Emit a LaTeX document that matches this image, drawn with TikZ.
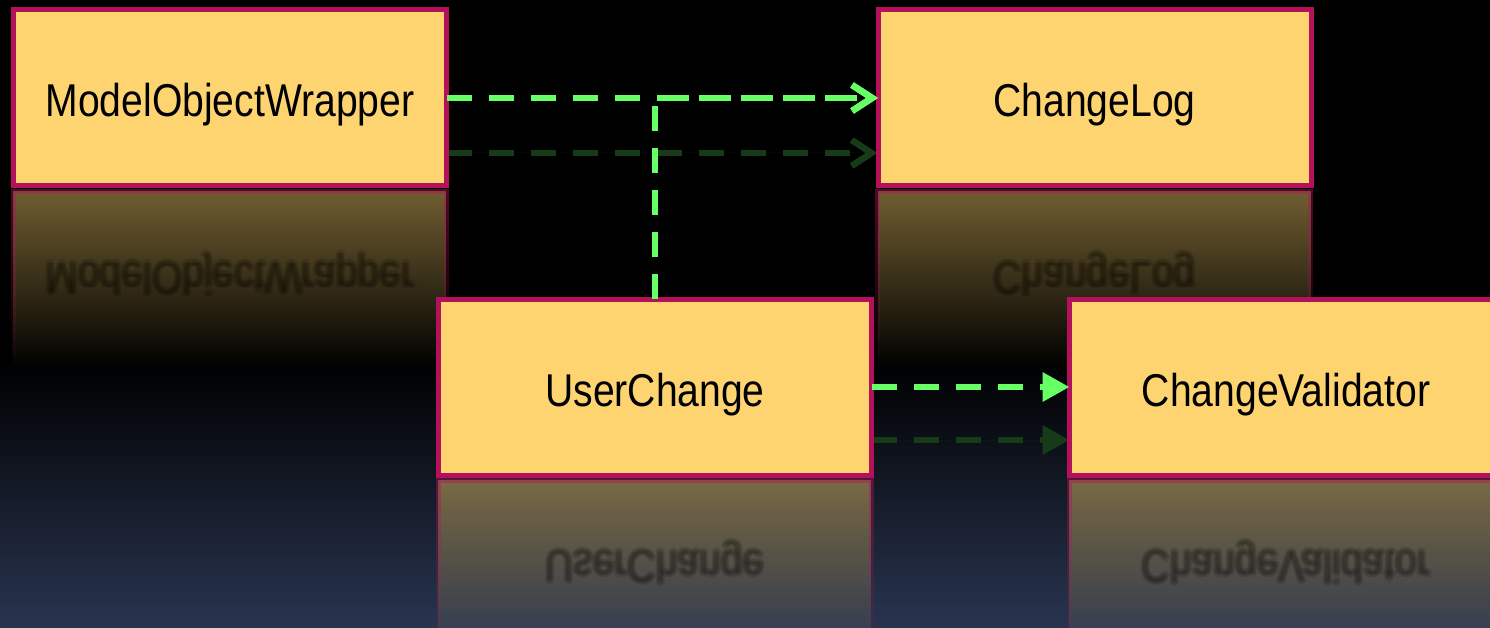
\documentclass[tikz,border=0pt]{standalone}
\usepackage{fontspec}
\setmainfont{Liberation Sans}
\usetikzlibrary{arrows.meta,fadings}
\definecolor{boxfill}{HTML}{FDD470}
\definecolor{boxline}{HTML}{B3125A}
\definecolor{arrowgreen}{HTML}{66FF66}
\definecolor{faintgreen}{HTML}{173A19}
\definecolor{bgblue}{HTML}{28344F}
\tikzfading[name=reflfade, top color=transparent!55, bottom color=transparent!100]
\newcommand{\boxtext}[1]{\fontsize{46}{50}\selectfont\scalebox{0.85}[1]{#1}}
\newcommand{\mirtext}[1]{\fontsize{46}{50}\selectfont\scalebox{0.85}[-1]{#1}}
\begin{document}
\begin{tikzpicture}[x=1pt,y=-1pt,
  classbox/.style={draw=boxline, line width=5pt, fill=boxfill, minimum width=433pt,
    minimum height=176pt, inner sep=0pt, outer sep=0pt, text height=38pt, text depth=0pt},
  reflbox/.style={draw=boxline, line width=5pt, fill=boxfill, path fading=reflfade},
  mirror/.style={anchor=base, inner sep=0pt, text=black, opacity=0.06},
  flow/.style={draw=arrowgreen, line width=6.5pt, dash pattern=on 25pt off 17pt},
  faintflow/.style={flow, draw=faintgreen, fill=faintgreen},
  openhead/.style={-{Straight Barb[length=20pt,width=26pt]}},
  fullhead/.style={-{Triangle[length=27pt,width=28pt]}}]
\useasboundingbox (0,0) rectangle (1490,628);
\clip (0,0) rectangle (1490,628);
% background
\fill[black] (0,0) rectangle (1490,628);
\shade[top color=black, bottom color=bgblue] (0,360) rectangle (1490,628);
% reflections of the boxes
\path[reflbox] (13.5,191) rectangle (446.5,367);
\path[reflbox] (878,191) rectangle (1311,367);
\path[reflbox] (438.5,480) rectangle (871.5,656);
\path[reflbox] (1069.5,480) rectangle (1502.5,656);
\foreach \dx/\dy [count=\k] in {0/0,3/0,-3/0,0/3,0/-3,2/2,-2/2,2/-2,-2/-2,1.5/0,-1.5/0} {
  \node[mirror] (rmw\k) at (230+\dx,262+\dy) {\mirtext{ModelObjectWrapper}};
  \node[mirror] (rcl\k) at (1094.5+\dx,262+\dy) {\mirtext{ChangeLog}};
  \node[mirror] (ruc\k) at (655+\dx,550+\dy) {\mirtext{UserChange}};
  \node[mirror] (rcv\k) at (1286+\dx,550+\dy) {\mirtext{ChangeValidator}};
}
% faint reflections of the arrows
\coordinate (f1s) at (446.5,153);
\coordinate (f1e) at (877.5,153);
\coordinate (f2s) at (871.5,440);
\coordinate (f2e) at (1069.5,440);
\draw[faintflow, openhead] (f1s) -- (f1e);
\draw[faintflow, fullhead] (f2s) -- (f2e);
% boxes
\node[classbox] (mw) at (230,98) {\boxtext{ModelObjectWrapper}};
\node[classbox] (cl) at (1094.5,98) {\boxtext{ChangeLog}};
\node[classbox] (uc) at (655,387) {\boxtext{UserChange}};
\node[classbox] (cv) at (1286,387) {\boxtext{ChangeValidator}};
% connectors
\draw[flow, openhead] (mw.east) -- (cl.west);
\draw[flow, openhead] (uc.north) |- (cl.west);
\draw[flow, fullhead] (uc.east) -- (cv.west);
\end{tikzpicture}
\end{document}
